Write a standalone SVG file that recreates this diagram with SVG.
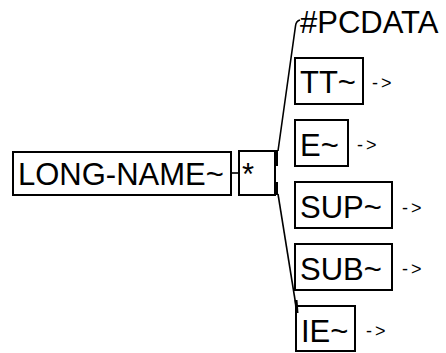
<svg xmlns="http://www.w3.org/2000/svg" width="446" height="353" viewBox="0 0 446 353">
<style>
.box{fill:none;stroke:#000;stroke-width:2}
.t{font-family:"Liberation Sans",Arial,sans-serif;font-size:31px;fill:#000}
.a{font-family:"Liberation Sans",Arial,sans-serif;font-size:18px;fill:#000;letter-spacing:3px}
.c{fill:none;stroke:#000;stroke-width:1.6}
</style>
<rect width="446" height="353" fill="#fff"/>
<g id="connectors">
<line class="c" x1="231" y1="173" x2="239" y2="173"/>
<path class="c" d="M300,20 Q296,21 295.5,26 L278,151"/>
<path class="c" d="M278,194 L296,306"/>
<line x1="276.5" y1="150" x2="276.5" y2="166" stroke="#000" stroke-width="3"/>
<line x1="276.5" y1="182" x2="276.5" y2="195" stroke="#000" stroke-width="3"/>
<line x1="296" y1="300" x2="297" y2="313" stroke="#000" stroke-width="3"/>
</g>
<g id="long-name">
<rect class="box" x="13" y="152" width="218" height="43"/>
<text class="t" x="18" y="185">LONG-NAME~</text>
</g>
<g id="star">
<rect class="box" x="239" y="151" width="36" height="44"/>
<text class="t" x="242" y="185">*</text>
</g>
<g id="pcdata">
<text class="t" x="300" y="33">#PCDATA</text>
</g>
<g id="tt">
<rect class="box" x="295" y="58" width="68" height="46"/>
<text class="t" x="300" y="93">TT~</text>
<text class="a" x="372" y="89">-&gt;</text>
</g>
<g id="e">
<rect class="box" x="295" y="120" width="53" height="46"/>
<text class="t" x="300" y="156">E~</text>
<text class="a" x="357" y="151">-&gt;</text>
</g>
<g id="sup">
<rect class="box" x="295" y="182" width="97" height="46"/>
<text class="t" x="300" y="218">SUP~</text>
<text class="a" x="402" y="214">-&gt;</text>
</g>
<g id="sub">
<rect class="box" x="295" y="244" width="97" height="46"/>
<text class="t" x="300" y="280">SUB~</text>
<text class="a" x="402" y="275">-&gt;</text>
</g>
<g id="ie">
<rect class="box" x="296" y="306" width="59" height="45"/>
<text class="t" x="301" y="342">IE~</text>
<text class="a" x="366" y="337">-&gt;</text>
</g>
</svg>
